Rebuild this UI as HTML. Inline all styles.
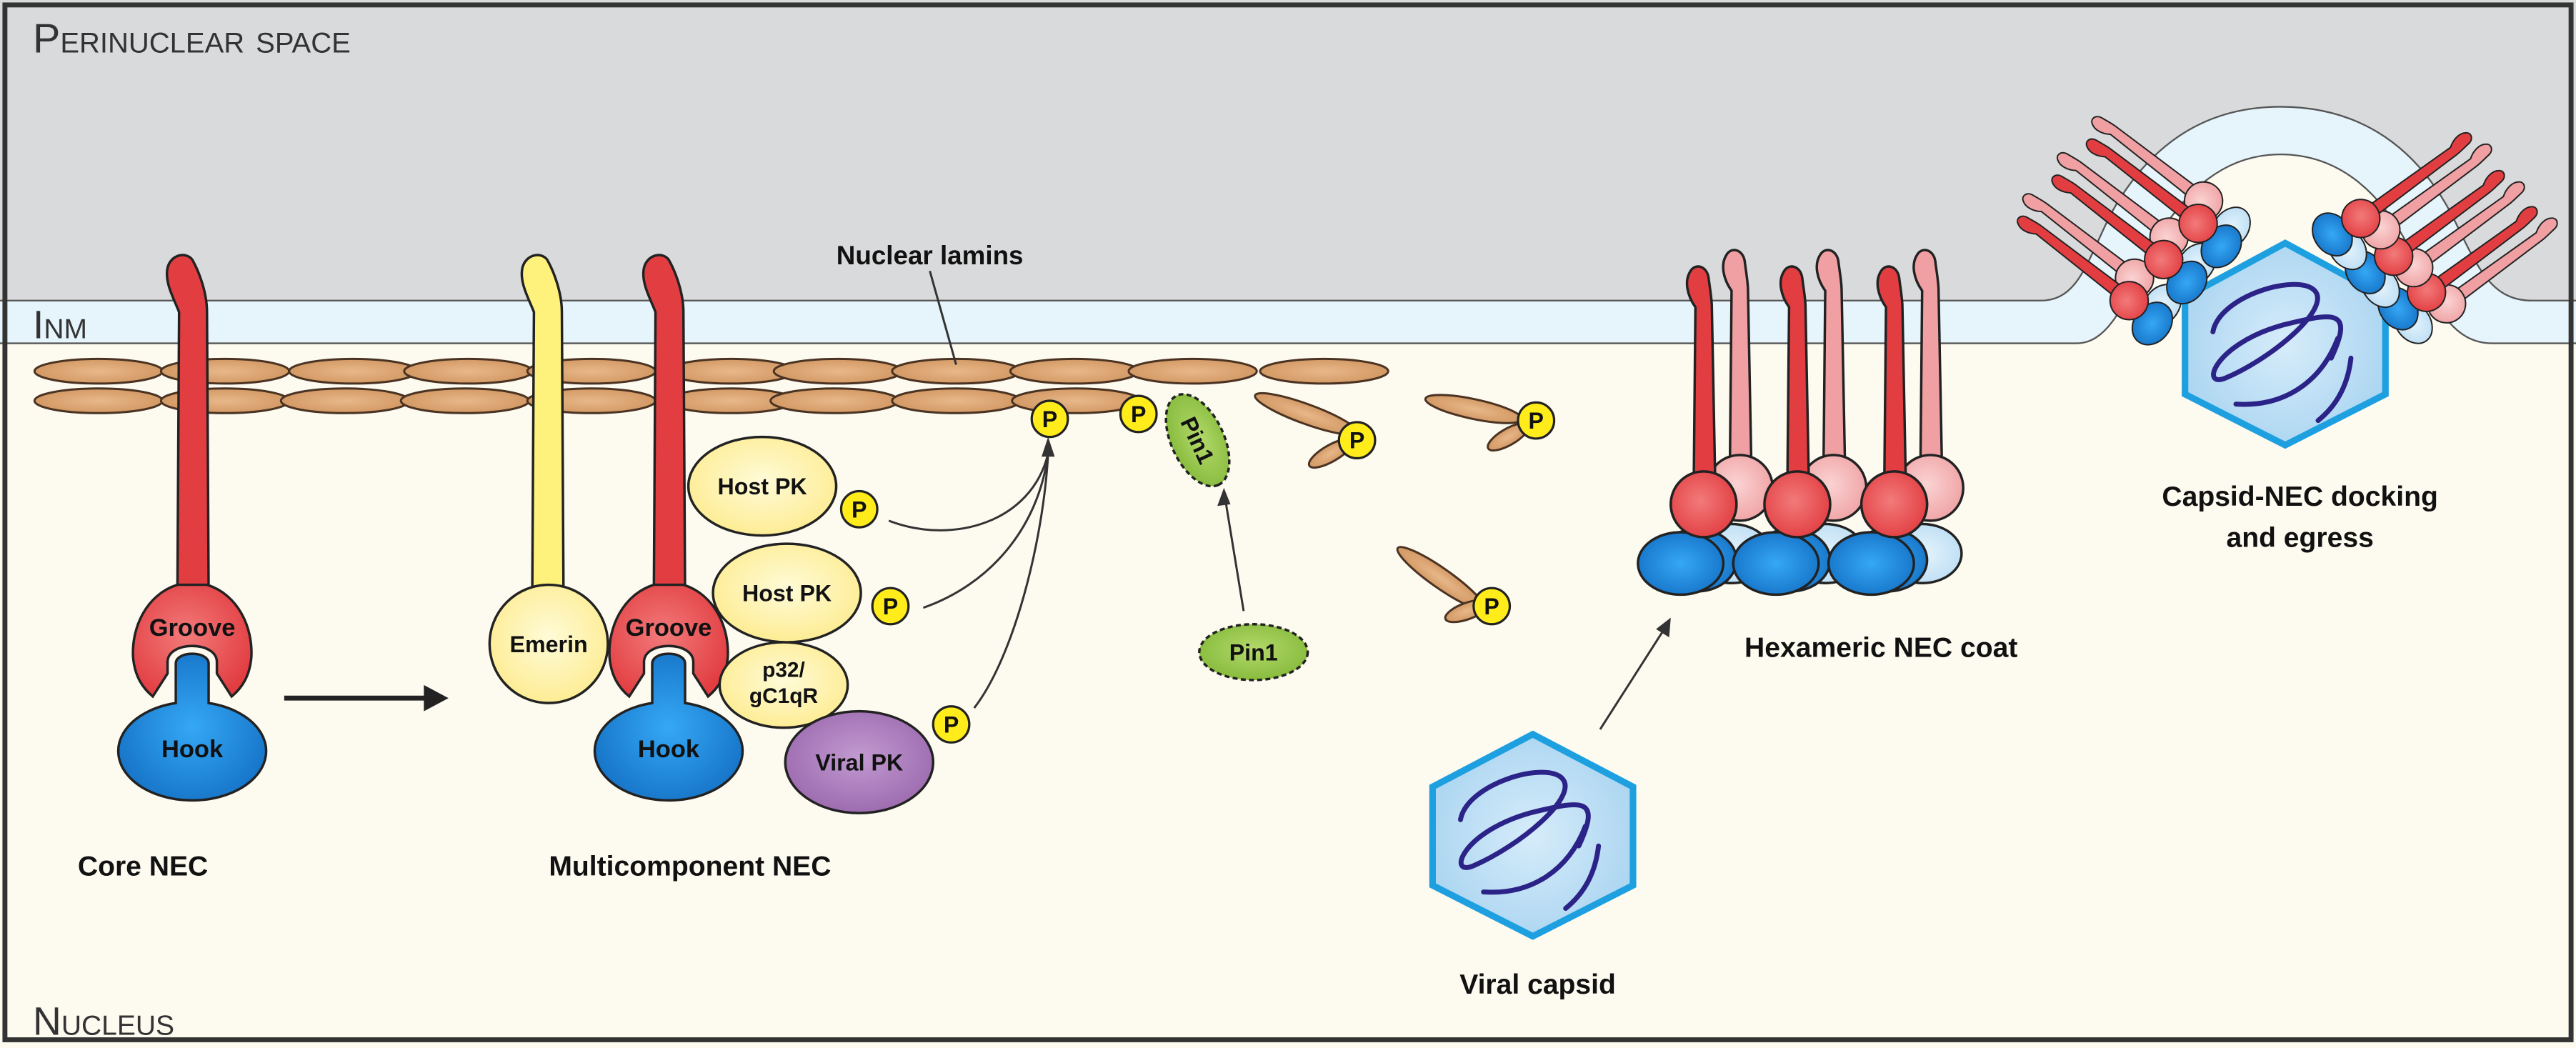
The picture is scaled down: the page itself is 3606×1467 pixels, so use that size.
<!DOCTYPE html>
<html><head><meta charset="utf-8"><style>
html,body{margin:0;padding:0;background:#fdfaf0}
svg{display:block}
text{font-family:"Liberation Sans",sans-serif}
.b{font-weight:bold;fill:#111}
.sc{font-variant:small-caps;fill:#333}
</style></head><body>
<svg width="3606" height="1467" viewBox="0 0 1568 638" preserveAspectRatio="none" xmlns="http://www.w3.org/2000/svg">
<defs>
<radialGradient id="gR" cx="45%" cy="45%" r="60%"><stop offset="0" stop-color="#f27a7a"/><stop offset="1" stop-color="#e23e42"/></radialGradient>
<radialGradient id="gP" cx="45%" cy="45%" r="60%"><stop offset="0" stop-color="#fbd3d3"/><stop offset="1" stop-color="#efa2a4"/></radialGradient>
<radialGradient id="gB" cx="50%" cy="50%" r="60%"><stop offset="0" stop-color="#35a8f5"/><stop offset="1" stop-color="#1470c4"/></radialGradient>
<radialGradient id="gLB" cx="50%" cy="50%" r="60%"><stop offset="0" stop-color="#e6f4fd"/><stop offset="1" stop-color="#b9dcf3"/></radialGradient>
<radialGradient id="gY" cx="50%" cy="45%" r="60%"><stop offset="0" stop-color="#fffbd8"/><stop offset="1" stop-color="#fdeb8e"/></radialGradient>
<radialGradient id="gV" cx="50%" cy="45%" r="60%"><stop offset="0" stop-color="#c29ad0"/><stop offset="1" stop-color="#9a68ad"/></radialGradient>
<radialGradient id="gG" cx="50%" cy="45%" r="60%"><stop offset="0" stop-color="#b3d96a"/><stop offset="1" stop-color="#84b93a"/></radialGradient>
<radialGradient id="gL" cx="50%" cy="50%" r="60%"><stop offset="0" stop-color="#e8b88a"/><stop offset="1" stop-color="#cf935d"/></radialGradient>
<radialGradient id="gC" cx="50%" cy="50%" r="60%"><stop offset="0" stop-color="#d6ecfa"/><stop offset="1" stop-color="#a7d3f0"/></radialGradient>
<g id="redU" stroke="#222" stroke-width="1.5">
<path d="M -6,-16 L -5,-120 C -10,-127 -12,-136 -8,-142 C -5,-147 2,-145 3,-138 C 4,-130 5,-125 5,-120 L 7,-16 Z" fill="#e23e42"/>
<circle cx="0" cy="0" r="20" fill="url(#gR)"/>
</g>
<g id="pinkU" stroke="#222" stroke-width="1.5">
<path d="M -6,-16 L -5,-120 C -10,-127 -12,-136 -8,-142 C -5,-147 2,-145 3,-138 C 4,-130 5,-125 5,-120 L 7,-16 Z" fill="#f0a0a2"/>
<circle cx="0" cy="0" r="20" fill="url(#gP)"/>
</g>
<g id="unit">
<ellipse cx="17" cy="30" rx="24" ry="18" fill="url(#gLB)" stroke="#222" stroke-width="1.5"/>
<use href="#pinkU" transform="translate(22,-10)"/>
<ellipse cx="-4" cy="34" rx="24" ry="19" fill="url(#gB)" stroke="#222" stroke-width="1.5"/>
<use href="#redU"/>
</g>
<g id="lamin"><ellipse rx="39" ry="7.5" fill="url(#gL)" stroke="#4a3322" stroke-width="1.3"/></g>
<g id="P"><circle r="11" fill="#ffec1a" stroke="#222" stroke-width="1.4"/><text y="5" text-anchor="middle" font-size="14" font-weight="bold" fill="#111">P</text></g>
<g id="dna" fill="none" stroke="#2b2387" stroke-width="3" stroke-linecap="round">
<path d="M -44,-8 C -40,-30 8,-44 18,-33 C 28,-22 -8,8 -36,20 C -52,27 -44,0 -2,-12 C 30,-20 42,-22 28,8"/>
<path d="M -30,36 C 0,38 22,22 32,-4 M 40,8 C 38,26 30,38 20,46"/>
</g>
</defs>

<rect x="0" y="0" width="1568" height="638" fill="#fdfaf0"/>
<path d="M0,0 H1568 V183 H1541 C1515,183 1507,160 1492,130 C1468,85 1432,65 1388,65 C1345,65 1310,85 1285,130 C1270,160 1265,183 1242,183 H0 Z" fill="#d9dadb"/>
<path d="M0,183 H1242 C1265,183 1270,160 1285,130 C1310,85 1345,65 1388,65 C1432,65 1468,85 1492,130 C1507,160 1515,183 1541,183 H1568 V209 H1517 C1490,209 1480,180 1466,150 C1448,115 1422,94 1388,94 C1355,94 1330,115 1310,150 C1295,180 1285,209 1264,209 H0 Z" fill="#e6f4fc"/>
<path d="M0,183 H1242 C1265,183 1270,160 1285,130 C1310,85 1345,65 1388,65 C1432,65 1468,85 1492,130 C1507,160 1515,183 1541,183 H1568" fill="none" stroke="#555" stroke-width="1"/>
<path d="M0,209 H1264 C1285,209 1295,180 1310,150 C1330,115 1355,94 1388,94 C1422,94 1448,115 1466,150 C1480,180 1490,209 1517,209 H1568" fill="none" stroke="#555" stroke-width="1"/>

<text x="20" y="32" font-size="25" class="sc">Perinuclear space</text>
<text x="20" y="206" font-size="24" class="sc">Inm</text>
<text x="20" y="630" font-size="24" class="sc">Nucleus</text>

<g>
<use href="#lamin" x="60" y="226"/><use href="#lamin" x="137" y="226"/><use href="#lamin" x="215" y="226"/><use href="#lamin" x="285" y="226"/><use href="#lamin" x="360" y="226"/><use href="#lamin" x="445" y="226"/><use href="#lamin" x="510" y="226"/><use href="#lamin" x="582" y="226"/><use href="#lamin" x="654" y="226"/><use href="#lamin" x="726" y="226"/><use href="#lamin" x="806" y="226"/>
<use href="#lamin" x="60" y="244"/><use href="#lamin" x="137" y="244"/><use href="#lamin" x="210" y="244"/><use href="#lamin" x="283" y="244"/><use href="#lamin" x="360" y="244"/><use href="#lamin" x="445" y="244"/><use href="#lamin" x="508" y="244"/><use href="#lamin" x="582" y="244"/><use href="#lamin" x="655" y="244"/>
</g>
<g fill="url(#gL)" stroke="#4a3322" stroke-width="1.3">
<ellipse cx="795" cy="252" rx="33" ry="6" transform="rotate(20 795 252)"/>
<ellipse cx="810" cy="276" rx="15" ry="5" transform="rotate(-30 810 276)"/>
<ellipse cx="897" cy="249" rx="30" ry="6" transform="rotate(12 897 249)"/>
<ellipse cx="918" cy="266" rx="14" ry="5" transform="rotate(-30 918 266)"/>
<ellipse cx="877" cy="352" rx="32" ry="6" transform="rotate(35 877 352)"/>
<ellipse cx="893" cy="372" rx="14" ry="5" transform="rotate(-20 893 372)"/>
</g>
<use href="#P" x="826" y="268"/><use href="#P" x="935" y="256"/><use href="#P" x="908" y="369"/>

<g transform="translate(117,0)" stroke="#222" stroke-width="1.5">
<path d="M -9,360 L -8,190 C -11,182 -17,172 -15,163 C -13,155 -4,153 0,158 C 4,165 9,178 9,190 L 10,360 Z" fill="#e23e42"/>
<path d="M -9,356 C -28,362 -37,382 -36,400 C -35,412 -30,419 -24,424 L -15,410 L -15,403 C -15,390 15,390 15,403 L 15,410 L 24,424 C 30,419 35,412 36,400 C 37,382 28,362 9,356 Z" fill="url(#gR)"/>
<path d="M -10,428 L -10,404 C -10,396 10,396 10,404 L 10,428 A 45,30 0 1 1 -10,428 Z" fill="url(#gB)"/>
</g>
<text x="117" y="387" font-size="15" class="b" text-anchor="middle">Groove</text>
<text x="117" y="461" font-size="15" class="b" text-anchor="middle">Hook</text>
<line x1="173" y1="425" x2="260" y2="425" stroke="#222" stroke-width="3"/>
<polygon points="273,425 258,417 258,433" fill="#222"/>

<g transform="translate(333,0)" stroke="#222" stroke-width="1.5">
<path d="M -9,360 L -8,190 C -11,182 -17,172 -15,163 C -13,155 -4,153 0,158 C 4,165 9,178 9,190 L 10,360 Z" fill="#fff27c"/>
<ellipse cx="1" cy="392" rx="36" ry="36" fill="url(#gY)"/>
</g>
<text x="334" y="397" font-size="14" class="b" text-anchor="middle">Emerin</text>
<g transform="translate(407,0)" stroke="#222" stroke-width="1.5">
<path d="M -9,360 L -8,190 C -11,182 -17,172 -15,163 C -13,155 -4,153 0,158 C 4,165 9,178 9,190 L 10,360 Z" fill="#e23e42"/>
<path d="M -9,356 C -28,362 -37,382 -36,400 C -35,412 -30,419 -24,424 L -15,410 L -15,403 C -15,390 15,390 15,403 L 15,410 L 24,424 C 30,419 35,412 36,400 C 37,382 28,362 9,356 Z" fill="url(#gR)"/>
<path d="M -10,428 L -10,404 C -10,396 10,396 10,404 L 10,428 A 45,30 0 1 1 -10,428 Z" fill="url(#gB)"/>
</g>
<text x="407" y="387" font-size="15" class="b" text-anchor="middle">Groove</text>
<text x="407" y="461" font-size="15" class="b" text-anchor="middle">Hook</text>

<g stroke="#222" stroke-width="1.5">
<ellipse cx="464" cy="296" rx="45" ry="30" fill="url(#gY)"/>
<ellipse cx="479" cy="361" rx="45" ry="30" fill="url(#gY)"/>
<ellipse cx="477" cy="417" rx="39" ry="26" fill="url(#gY)"/>
<ellipse cx="523" cy="464" rx="45" ry="31" fill="url(#gV)"/>
</g>
<text x="464" y="301" font-size="14" class="b" text-anchor="middle">Host PK</text>
<text x="479" y="366" font-size="14" class="b" text-anchor="middle">Host PK</text>
<text x="477" y="412" font-size="13" class="b" text-anchor="middle">p32/</text>
<text x="477" y="428" font-size="13" class="b" text-anchor="middle">gC1qR</text>
<text x="523" y="469" font-size="14" class="b" text-anchor="middle">Viral PK</text>
<use href="#P" x="523" y="310"/><use href="#P" x="542" y="369"/><use href="#P" x="579" y="441"/>

<g fill="none" stroke="#333" stroke-width="1.3">
<path d="M541,317 C580,332 628,318 638,276"/>
<path d="M562,370 C602,356 632,322 638,276"/>
<path d="M593,431 C617,400 635,330 638,276"/>
<line x1="757" y1="372" x2="746" y2="305"/>
<line x1="974" y1="444" x2="1013" y2="383"/>
<line x1="566" y1="165" x2="582" y2="222"/>
</g>
<polygon points="638,266 634,278 642,278" fill="#333"/>
<polygon points="745,297 741,308 749,307" fill="#333"/>
<polygon points="1017,376 1008,383 1016,388" fill="#333"/>

<use href="#P" x="639" y="255"/><use href="#P" x="693" y="252"/>
<g transform="translate(729,268) rotate(65)">
<ellipse rx="30" ry="16" fill="url(#gG)" stroke="#222" stroke-width="1.5" stroke-dasharray="3,2"/>
<text y="5" font-size="14" class="b" text-anchor="middle">Pin1</text>
</g>
<ellipse cx="763" cy="397" rx="33" ry="17" fill="url(#gG)" stroke="#222" stroke-width="1.5" stroke-dasharray="3,2"/>
<text x="763" y="402" font-size="14" class="b" text-anchor="middle">Pin1</text>

<use href="#unit" transform="translate(1153,307)"/>
<use href="#unit" transform="translate(1094,307)"/>
<use href="#unit" transform="translate(1037,307)"/>
<ellipse cx="1081" cy="343" rx="26" ry="19" fill="url(#gB)" stroke="#222" stroke-width="1.5"/>
<ellipse cx="1139" cy="343" rx="26" ry="19" fill="url(#gB)" stroke="#222" stroke-width="1.5"/>
<ellipse cx="1023" cy="343" rx="26" ry="19" fill="url(#gB)" stroke="#222" stroke-width="1.5"/>
<circle cx="1037" cy="307" r="20" fill="url(#gR)" stroke="#222" stroke-width="1.5"/>
<circle cx="1094" cy="307" r="20" fill="url(#gR)" stroke="#222" stroke-width="1.5"/>
<circle cx="1153" cy="307" r="20" fill="url(#gR)" stroke="#222" stroke-width="1.5"/>
<text x="1145" y="400" font-size="17" class="b" text-anchor="middle">Hexameric NEC coat</text>

<polygon points="933,447 994,479 994,539 933,570 872,539 872,479" fill="url(#gC)" stroke="#1ea0e0" stroke-width="4"/>
<use href="#dna" transform="translate(933,507)"/>
<text x="936" y="605" font-size="17" class="b" text-anchor="middle">Viral capsid</text>

<polygon points="1391,148 1452,181 1452,240 1391,271 1330,240 1330,181" fill="url(#gC)" stroke="#1ea0e0" stroke-width="4"/>
<use href="#dna" transform="translate(1391,210)"/>
<g>
<use href="#unit" transform="translate(1296,183) rotate(-52) scale(0.58)"/>
<use href="#unit" transform="translate(1317,158) rotate(-52) scale(0.58)"/>
<use href="#unit" transform="translate(1338,136) rotate(-52) scale(0.58)"/>
<use href="#unit" transform="translate(1477,178) rotate(54) scale(0.58)"/>
<use href="#unit" transform="translate(1457,156) rotate(54) scale(0.58)"/>
<use href="#unit" transform="translate(1437,133) rotate(54) scale(0.58)"/>
</g>
<text x="1400" y="308" font-size="17" class="b" text-anchor="middle">Capsid-NEC docking</text>
<text x="1400" y="333" font-size="17" class="b" text-anchor="middle">and egress</text>

<text x="87" y="533" font-size="17" class="b" text-anchor="middle">Core NEC</text>
<text x="420" y="533" font-size="17" class="b" text-anchor="middle">Multicomponent NEC</text>
<text x="566" y="161" font-size="16" class="b" text-anchor="middle" fill="#333">Nuclear lamins</text>

<rect x="3" y="3" width="1562" height="630" fill="none" stroke="#333" stroke-width="3"/>
</svg>
</body></html>
